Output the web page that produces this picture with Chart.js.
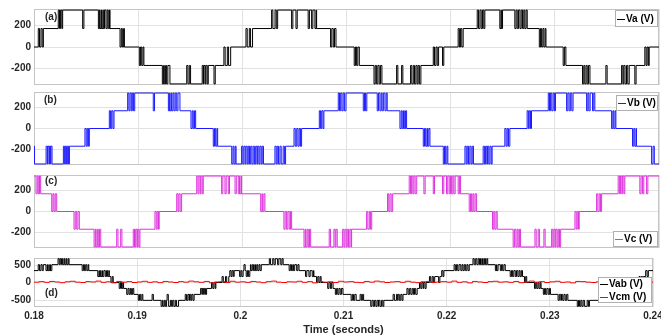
<!DOCTYPE html>
<html>
<head>
<meta charset="utf-8">
<script src="https://cdn.jsdelivr.net/npm/chart.js@4.4.1/dist/chart.umd.min.js"></script>
<style>
  html, body { margin: 0; padding: 0; background: #fff; overflow: hidden; }
  #wrap { position: relative; width: 661px; height: 335px; overflow: hidden; }
  #wrap canvas { position: absolute; left: 0; }
</style>
</head>
<body>
<div id="wrap">
  <canvas id="chartA" width="661" height="80" style="top:7px"></canvas>
  <canvas id="chartB" width="661" height="77" style="top:90px"></canvas>
  <canvas id="chartC" width="661" height="77" style="top:173px"></canvas>
  <canvas id="chartD" width="661" height="81" style="top:256px"></canvas>
</div>
<script>
// time in ms, shown as seconds on the axis
const timeTicks = [180, 190, 200, 210, 220, 230, 240];
const phaseTicks = [-200, 0, 200];
const lineTicks = [-500, 0, 500];

// each trace: level changes [t, V] plus short switching pulses [t, V]
const vaSteps = [[180, 0], [180.90, 170], [182.75, 340], [187.30, 170], [188.68, 0], [190.55, -170], [193.05, -340], [196.73, -170], [198.88, 0], [200.98, 170], [203.39, 340], [207.13, 170], [208.99, 0], [211.23, -170], [213.40, -340], [217.14, -170], [218.84, 0], [221.20, 170], [223.28, 340], [227.35, 170], [229.15, 0], [231.06, -170], [233.37, -340], [237.14, -170], [239.06, 0]];
const vaPulses = [[180.41, 170], [180.67, 170], [182.33, 340], [182.55, 340], [184.67, 170], [186.18, 170], [186.34, 170], [186.50, 170], [186.65, 170], [186.91, 170], [187.13, 170], [188.26, 0], [188.48, 0], [190.11, -170], [190.34, -170], [192.32, -340], [192.51, -340], [192.73, -340], [194.66, -170], [194.91, -170], [196.15, -170], [196.32, -170], [196.51, -170], [197.28, -340], [198.23, 0], [198.56, 0], [200.35, 170], [200.67, 170], [202.81, 340], [203.14, 340], [204.73, 170], [205.15, 170], [206.32, 170], [206.65, 170], [206.97, 170], [208.47, 0], [208.73, 0], [210.74, -170], [210.97, -170], [212.64, -340], [212.89, -340], [213.14, -340], [214.81, -170], [215.29, -170], [216.15, -170], [216.41, -170], [216.66, -170], [216.88, -170], [218.33, 0], [218.59, 0], [219.22, -170], [220.72, 170], [220.95, 170], [222.55, 340], [222.81, 340], [223.06, 340], [224.72, 170], [224.86, 170], [226.16, 170], [226.39, 170], [226.65, 170], [226.90, 170], [227.12, 170], [228.51, 0], [228.73, 0], [228.95, 0], [230.80, -170], [232.66, -340], [232.88, -340], [233.11, -340], [234.90, -170], [236.41, -170], [236.62, -170], [236.88, -170], [237.68, -340], [238.64, 0], [238.86, 0]];

const vbSteps = [[180, -170], [180.05, -340], [183.40, -170], [185.31, 0], [187.68, 170], [189.67, 340], [194.01, 170], [195.52, 0], [197.63, -170], [199.40, -340], [204.15, -170], [205.69, 0], [207.83, 170], [209.95, 340], [213.91, 170], [215.77, 0], [218.01, -170], [219.73, -340], [223.98, -170], [225.68, 0], [227.76, 170], [230.06, 340], [233.84, 170], [235.86, 0], [237.84, -170], [239.29, -340]];
const vbPulses = [[181.16, -170], [181.32, -170], [181.48, -170], [181.61, -170], [182.82, -170], [183.01, -170], [183.20, -170], [184.89, 0], [185.12, 0], [187.23, 170], [187.46, 170], [188.99, 340], [189.22, 340], [189.44, 340], [191.45, 170], [192.90, 170], [193.05, 170], [193.22, 170], [193.44, 170], [193.70, 170], [195.07, 0], [195.29, 0], [197.21, -170], [197.44, -170], [198.98, -340], [199.20, -340], [199.93, -170], [200.15, -170], [200.35, -170], [200.57, -170], [200.80, -170], [201.04, -170], [201.28, -170], [201.47, -170], [201.69, -170], [201.91, -170], [203.13, -170], [203.35, -170], [203.61, -170], [203.92, -170], [204.96, 0], [205.22, 0], [205.46, 0], [207.39, 170], [207.62, 170], [209.21, 340], [209.44, 340], [209.68, 340], [211.61, 170], [211.83, 170], [212.95, 170], [213.21, 170], [213.42, 170], [213.69, 170], [215.13, 0], [215.35, 0], [215.55, 0], [217.37, -170], [217.60, -170], [217.78, -170], [219.29, -340], [219.52, -340], [221.37, -170], [221.59, -170], [221.84, -170], [222.07, -170], [223.12, -170], [223.35, -170], [223.54, -170], [223.77, -170], [225.20, 0], [225.43, 0], [227.34, 170], [227.54, 170], [229.37, 340], [229.59, 340], [229.84, 340], [231.13, 170], [231.37, 170], [231.63, 170], [233.05, 170], [233.27, 170], [233.62, 170], [235.45, 0], [235.66, 0], [237.46, -170], [237.68, -170], [239.43, -170]];

const vcSteps = [[180, 340], [180.64, 170], [182.18, 0], [184.35, -170], [186.41, -340], [190.17, -170], [192.02, 0], [194.17, 170], [196.25, 340], [199.93, 170], [202.17, 0], [204.73, -170], [206.56, -340], [210.49, -170], [212.42, 0], [214.43, 170], [216.74, 340], [220.95, 170], [222.49, 0], [224.47, -170], [226.71, -340], [230.56, -170], [232.34, 0], [234.49, 170], [236.72, 340]];
const vcPulses = [[180.19, 170], [180.41, 170], [181.70, 0], [181.92, 0], [183.84, -170], [184.10, -170], [185.77, -340], [185.96, -340], [186.17, -340], [187.94, -170], [188.32, -170], [189.53, -170], [189.76, -170], [189.95, -170], [191.61, 0], [191.83, 0], [193.70, 170], [193.91, 170], [195.62, 340], [195.84, 340], [196.03, 340], [198.01, 170], [198.33, 170], [198.65, 170], [199.30, 170], [199.61, 170], [199.77, 170], [201.76, 0], [201.95, 0], [203.99, -170], [204.25, -170], [204.50, -170], [205.92, -340], [206.10, -340], [206.33, -340], [208.34, -170], [208.79, -170], [208.99, -170], [209.63, -170], [209.85, -170], [210.07, -170], [210.32, -170], [211.93, 0], [212.19, 0], [213.94, 170], [214.17, 170], [216.02, 340], [216.25, 340], [216.47, 340], [217.43, 170], [218.33, 170], [219.22, 170], [219.60, 170], [219.86, 170], [220.09, 170], [220.31, 170], [220.72, 170], [221.78, 0], [222.01, 0], [222.23, 0], [224.02, -170], [224.24, -170], [226.00, -340], [226.26, -340], [226.48, -340], [228.09, -170], [228.40, -170], [228.95, -170], [229.69, -170], [229.91, -170], [230.10, -170], [230.33, -170], [231.93, 0], [232.15, 0], [234.01, 170], [234.26, 170], [236.08, 340], [236.31, 340], [236.51, 340], [238.16, 170], [238.42, 170], [238.81, 170]];

const vabSteps = [[180, 340], [180.90, 510], [182.75, 680], [183.40, 510], [185.31, 340], [187.30, 170], [187.68, 0], [188.68, -170], [189.67, -340], [190.55, -510], [193.05, -680], [194.01, -510], [195.52, -340], [196.73, -170], [197.63, 0], [198.88, 170], [199.40, 340], [200.98, 510], [203.39, 680], [204.15, 510], [205.69, 340], [207.13, 170], [207.83, 0], [208.99, -170], [209.95, -340], [211.23, -510], [213.40, -680], [213.91, -510], [215.77, -340], [217.14, -170], [218.01, 0], [218.84, 170], [219.73, 340], [221.20, 510], [223.28, 680], [223.98, 510], [225.68, 340], [227.35, 170], [227.76, 0], [229.15, -170], [230.06, -340], [231.06, -510], [233.37, -680], [233.84, -510], [235.86, -340], [237.14, -170], [237.84, 0], [239.06, 170], [239.29, 340]];
const vabPulses = [[180.41, 510], [180.67, 510], [181.16, 340], [181.32, 340], [181.48, 340], [181.61, 340], [182.33, 680], [182.55, 680], [182.82, 510], [183.01, 510], [183.20, 510], [184.67, 340], [184.89, 340], [185.12, 340], [186.18, 170], [186.34, 170], [186.50, 170], [186.65, 170], [186.91, 170], [187.13, 170], [187.46, 0], [188.26, -170], [188.48, -170], [188.99, -340], [189.22, -340], [189.44, -340], [190.11, -510], [190.34, -510], [191.45, -340], [192.32, -680], [192.51, -680], [192.73, -680], [192.90, -340], [193.22, -510], [193.44, -510], [193.70, -510], [194.66, -340], [194.91, -340], [195.07, -340], [195.29, -340], [196.15, -170], [196.32, -170], [196.51, -170], [197.21, 0], [197.44, 0], [198.23, 170], [198.56, 170], [198.98, 340], [199.20, 340], [199.93, 170], [200.15, 170], [200.35, 510], [200.57, 170], [200.80, 170], [201.04, 340], [201.28, 340], [201.47, 340], [201.69, 340], [201.91, 340], [202.81, 680], [203.14, 680], [203.61, 510], [203.92, 510], [204.73, 340], [204.96, 340], [205.15, 340], [205.46, 340], [206.32, 170], [206.65, 170], [206.97, 170], [207.39, 0], [207.62, 0], [208.47, -170], [208.73, -170], [209.21, -340], [209.44, -340], [209.68, -340], [210.74, -510], [210.97, -510], [211.61, -340], [211.83, -340], [212.64, -680], [212.89, -680], [213.14, -680], [213.42, -510], [213.69, -510], [214.81, -340], [215.13, -340], [215.29, -340], [215.55, -340], [216.15, -170], [216.41, -170], [216.66, -170], [216.88, -170], [217.37, 0], [217.60, 0], [217.78, 0], [218.33, 170], [218.59, 170], [219.22, 0], [219.52, 340], [220.72, 510], [220.95, 510], [221.37, 340], [221.59, 340], [221.84, 340], [222.07, 340], [222.55, 680], [222.81, 680], [223.06, 680], [223.35, 510], [223.54, 510], [223.77, 510], [224.72, 340], [224.86, 340], [225.20, 340], [225.43, 340], [226.16, 170], [226.39, 170], [226.65, 170], [226.90, 170], [227.12, 170], [227.54, 0], [228.51, -170], [228.73, -170], [228.95, -170], [229.37, -340], [229.59, -340], [229.84, -340], [230.80, -510], [231.13, -340], [231.37, -340], [231.63, -340], [232.66, -680], [232.88, -680], [233.11, -680], [233.62, -510], [234.90, -340], [235.45, -340], [235.66, -340], [236.41, -170], [236.62, -170], [236.88, -170], [237.46, 0], [238.64, 170], [238.86, 170], [239.43, 170]];

// common-mode voltage, sampled every 0.5 ms from 180 ms
const vcmStart = 180;
const vcmStep = 0.5;
const vcmValues = [
  10, 25, 5, 30, 15, -5, 20, 35, 10, 0, 25, 15, 40, 5, 20, -10, 30, 10, 25, 0,
  15, 35, 5, 20, -5, 30, 15, 0, 25, 10, 40, 20, 5, 30, -10, 15, 25, 0, 35, 10,
  20, 5, 30, 15, -5, 25, 40, 10, 0, 20, 15, 35, 5, 25, -10, 30, 10, 20, 0, 35,
  15, 25, 5, -5, 30, 10, 40, 20, 0, 15, 25, 5, 35, 10, -5, 20, 30, 0, 15, 25,
  10, 40, 5, 20, -10, 30, 15, 0, 25, 35, 10, 20, 5, 30, -5, 15, 40, 10, 25, 0,
  20, 35, 5, 15, -10, 30, 25, 10, 0, 20, 40, 15, 5, 30, -5, 25, 10, 35, 20, 10, 15
];

const PULSE_MS = 0.12;
const FONT = '"Liberation Sans", Arial, sans-serif';
const TEXT = '#262626';

Chart.defaults.font.family = FONT;

// merge level changes and pulses into one stepped point list
function buildTrace(steps, pulses) {
  const pts = steps.map(function (s) { return { x: s[0], y: s[1] }; });
  pulses.forEach(function (p) {
    let held = steps[0][1];
    steps.forEach(function (s) { if (s[0] <= p[0]) held = s[1]; });
    pts.push({ x: p[0], y: p[1] });
    pts.push({ x: p[0] + PULSE_MS, y: held });
  });
  pts.sort(function (a, b) { return a.x - b.x; });
  pts.push({ x: 240, y: pts[pts.length - 1].y });
  return pts;
}

function buildVcm() {
  const pts = vcmValues.map(function (v, i) { return { x: vcmStart + i * vcmStep, y: v }; });
  return pts;
}

// box round each panel, panel tag and a small boxed legend
const panelFrame = {
  id: 'panelFrame',
  beforeDatasetsDraw: function (chart) {
    const a = chart.chartArea, ctx = chart.ctx;
    ctx.save();
    ctx.strokeStyle = '#c4c4c4';
    ctx.lineWidth = 1;
    ctx.strokeRect(Math.round(a.left) + 0.5, Math.round(a.top) + 0.5, Math.round(a.right - a.left) - 1, Math.round(a.bottom - a.top) - 1);
    ctx.restore();
  },
  afterDraw: function (chart, args, opts) {
    const ctx = chart.ctx;
    const off = chart.canvas.offsetTop;
    ctx.save();
    ctx.font = 'bold 10px ' + FONT;
    ctx.textBaseline = 'middle';
    ctx.fillStyle = TEXT;
    ctx.fillText(opts.tag, opts.tagX, opts.tagY - off);

    const lg = opts.legend;
    const top = lg.top - off;
    ctx.fillStyle = '#ffffff';
    ctx.fillRect(lg.left, top, lg.width, lg.height);
    ctx.strokeStyle = '#b0b0b0';
    ctx.lineWidth = 1;
    ctx.strokeRect(lg.left + 0.5, top + 0.5, lg.width - 1, lg.height - 1);
    const rowH = lg.height / chart.data.datasets.length;
    chart.data.datasets.forEach(function (ds, i) {
      const y = Math.round(top + rowH * (i + 0.5)) + 0.5;
      ctx.strokeStyle = ds.borderColor;
      ctx.beginPath();
      ctx.moveTo(lg.left + 2, y);
      ctx.lineTo(lg.left + 10, y);
      ctx.stroke();
      ctx.fillStyle = '#000000';
      ctx.fillText(ds.label, lg.left + 11, y);
    });
    ctx.restore();
  }
};

function makeChart(id, datasets, yTicks, yMax, showTime, padRight, frame) {
  const ctx = document.getElementById(id).getContext('2d');
  return new Chart(ctx, {
    type: 'line',
    data: { datasets: datasets },
    options: {
      responsive: false,
      animation: false,
      events: [],
      layout: { padding: { top: 2, bottom: showTime ? 0 : 2, left: 0, right: padRight } },
      elements: { point: { radius: 0 }, line: { borderWidth: 1, stepped: true, tension: 0 } },
      plugins: { legend: { display: false }, tooltip: { enabled: false }, panelFrame: frame },
      scales: {
        x: {
          type: 'linear',
          min: 180,
          max: 240,
          afterBuildTicks: function (s) { s.ticks = timeTicks.map(function (v) { return { value: v }; }); },
          afterFit: function (s) { s.height = showTime ? 30 : 0; s.paddingLeft = 0; s.paddingRight = 0; },
          grid: { color: '#e2e2e2', drawTicks: false },
          border: { display: false },
          ticks: {
            display: showTime,
            padding: 3,
            color: TEXT,
            maxRotation: 0,
            autoSkip: false,
            font: { size: 10, weight: 'bold' },
            callback: function (v) { return String(v / 1000); }
          },
          title: {
            display: showTime,
            text: 'Time (seconds)',
            padding: 0,
            color: TEXT,
            font: { size: 11, weight: 'bold' }
          }
        },
        y: {
          min: -yMax,
          max: yMax,
          afterBuildTicks: function (s) { s.ticks = yTicks.map(function (v) { return { value: v }; }); },
          afterFit: function (s) { s.width = 34; s.paddingTop = 0; s.paddingBottom = 0; },
          grid: { color: '#e2e2e2', drawTicks: false },
          border: { display: false },
          ticks: { padding: 3, color: TEXT, font: { size: 10, weight: 'bold' } }
        }
      }
    },
    plugins: [panelFrame]
  });
}

makeChart('chartA', [
  { label: 'Va (V)', data: buildTrace(vaSteps, vaPulses), borderColor: '#000000' }
], phaseTicks, 350, false, 2, { tag: '(a)', tagX: 45, tagY: 17.5, legend: { left: 615, top: 10, width: 43, height: 17 } });

makeChart('chartB', [
  { label: 'Vb (V)', data: buildTrace(vbSteps, vbPulses), borderColor: '#1a1aff' }
], phaseTicks, 350, false, 2, { tag: '(b)', tagX: 44, tagY: 100, legend: { left: 616, top: 95, width: 42, height: 16 } });

makeChart('chartC', [
  { label: 'Vc (V)', data: buildTrace(vcSteps, vcPulses), borderColor: '#dd33dd' }
], phaseTicks, 350, false, 2, { tag: '(c)', tagX: 45, tagY: 181, legend: { left: 613, top: 231, width: 45, height: 16 } });

makeChart('chartD', [
  { label: 'Vab (V)', data: buildTrace(vabSteps, vabPulses), borderColor: '#000000', order: 2 },
  { label: 'Vcm (V)', data: buildVcm(), borderColor: '#ff0000', order: 1 }
], lineTicks, 700, true, 8, { tag: '(d)', tagX: 45, tagY: 293.5, legend: { left: 598, top: 277, width: 54, height: 26 } });
</script>
</body>
</html>
